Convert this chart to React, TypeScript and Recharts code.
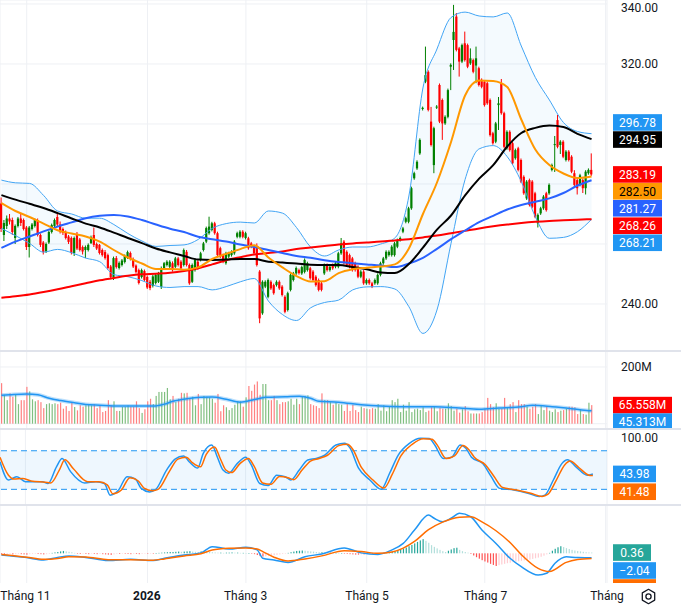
import React from 'react';
import {
  ComposedChart, Bar, Line, Area, XAxis, YAxis, CartesianGrid, ReferenceLine, ReferenceArea,
} from 'recharts';

const W = 681;
const AXIS_W = 74;
const SLOTS = 216;
const FONT = 'Roboto, "Noto Sans", sans-serif';
const GRID = '#eef0f4';
const TEXT = '#131722';
const UP = '#008000';
const DOWN = '#ff0000';

// Candles: [open, high, low, close]
const candles: [number, number, number, number][] = [
  [273.5,275.5,264,265],[263,268,261,267],[266,269.5,265,268.5],[268.5,270,266.5,267.5],[268,268.8,263,264],
  [262,266.5,260,266],[266,269,265.5,268.5],[268.5,270,266,267],[268,268.5,264.5,265],[265.5,266,258,259],
  [259,266,255.5,265.5],[265,267,264.5,266.5],[266,268.5,265.5,268],[268,268.5,262.5,263],[263,263.5,259,259.7],
  [260.5,261,256.5,257.3],[257.5,260.5,257,260],[260.5,264.5,260,264],[264,266.8,263.5,266.3],[266,268.5,265.5,268],
  [269,270.5,266,266.5],[266.5,267.5,263.5,264],[265,265.5,263,263.7],[264,264.5,261.5,262],[262.5,263,260,260.7],
  [262,262.5,256.5,257],[257,262.5,256,262],[263,264,258,258.5],[261.5,262,257.5,258],[259,259.5,256.5,257.5],
  [258,259.5,255.3,259],[258,260.2,257.5,259.7],[260.3,262.8,260,262.3],[263,265.5,259,259.7],[260,260.5,258,258.5],
  [259.7,260,256.5,257],[258,258.5,255.8,256.3],[257.3,258,254.8,255.3],[256.3,256.8,251.5,252],[252.5,253,248.3,249],
  [249,255.8,248,255.3],[255.3,256,251.8,252.3],[252,254.2,251.5,253.7],[253,255,252.5,254.5],[254,256.5,253.5,256],
  [255.5,257.8,255,257.3],[257,257.5,254.5,255],[255,255.5,252,252.5],[252.8,253.2,250.2,250.7],[251.3,251.8,246.5,247],
  [249,251.8,248.5,251.3],[251,251.5,247.5,248],[249,249.5,245,245.5],[247.4,248,244.6,245.3],[246,249.7,245.5,249.2],
  [247,250.2,246.5,249.7],[247.4,250.7,247,250.2],[245.7,252.5,245,252],[252,254,251.5,253.6],[253,254.6,252.5,254.1],
  [252.4,254.6,252,254.1],[253.6,254.2,250.8,251.3],[252.4,255.7,252,255.2],[255.2,255.7,252.5,253],[254.1,254.6,251.4,251.9],
  [253,258.5,252.5,258],[257.4,258,252.5,253],[253,253.5,246.4,246.9],[247.4,253.5,247,253],[251.3,255.2,250.8,254.7],
  [254.1,254.6,251.4,251.9],[254.7,257.4,254.2,256.9],[258,260.7,257.5,260.2],[260.8,265.8,260.3,265.3],[263.6,269.1,263.1,265.8],
  [264.7,267.4,264.2,266.9],[266.9,267.4,263.1,263.6],[263.6,264.1,255.8,256.3],[258.6,259.1,255.3,255.8],[256.3,256.8,253.6,254.1],
  [253.6,257.4,253.1,256.9],[255.8,257.4,255.3,256.9],[256.3,257.9,255.8,257.4],[256.9,261.3,256.4,260.8],[262.4,264.1,261.9,263.6],
  [262.4,264.6,261.9,264.1],[264.1,264.6,261.9,262.4],[262,264.1,261.5,263.6],[261.9,262.4,258.1,258.6],[260.2,260.7,258.6,259.1],
  [259.1,259.6,256.4,256.9],[258.6,260.2,252.5,253],[250.8,251.3,233.6,235.2],[236.9,247.9,236.4,247.4],[245.8,247.9,245.3,247.4],
  [242.4,248.5,241.9,248],[247.4,247.9,244.7,245.2],[246.3,246.8,243.1,243.6],[246.3,247.9,245.8,247.4],[247.4,247.9,244.7,245.2],
  [245.8,246.3,242.5,243],[242.4,242.9,236.9,237.4],[238,244.1,237.5,243.6],[244.7,250.2,244.2,249.7],[248,250.7,247.5,250.2],
  [250.2,252.5,249.7,252],[251.3,251.8,249.8,250.3],[250.2,252.8,249.7,252.3],[250.7,255.2,250.2,254.7],[251.3,254.1,250.8,253.6],
  [251.9,252.4,248.1,248.6],[250.8,251.3,247.5,248],[249.1,249.6,245.8,246.3],[248,248.5,244.2,244.7],[246.9,247.4,244.2,244.7],
  [250.2,253.5,249.7,253],[253,253.5,250.8,251.3],[251.3,252.9,250.8,252.4],[253,253.5,251.4,251.9],[252.4,254.1,251.9,253.6],
  [252.4,257.4,251.9,256.9],[256.9,262,256.4,260.2],[260.8,261.3,253.1,253.6],[257.4,257.9,252.5,253],[256.3,256.8,251.9,252.4],
  [255.2,255.7,250.8,251.3],[253.6,254.1,250.8,251.3],[252.4,252.9,248.6,249.1],[249.1,251.3,248.6,250.8],[250.8,251.3,246.4,246.9],
  [246.9,248.5,246.4,248],[248,248.5,246.4,246.9],[246.9,247.4,245.3,245.8],[246.9,248.5,246.4,248],[246.9,250.2,246.4,249.7],
  [249.7,254.1,249.2,253.6],[253.6,255.7,253.1,255.2],[255.2,257.9,254.7,257.4],[256.3,257.9,255.8,257.4],[256.3,259.6,255.8,259.1],
  [256.3,260.7,255.8,260.2],[259.1,261.8,258.6,261.3],[261.3,262.5,260.8,262],[264.1,265.7,263.6,265.2],[267.4,269.1,266.9,268.6],
  [267.4,272.4,266.9,271.9],[271.9,279.1,271.4,278.6],[281.9,284.1,281.4,283.6],[285.2,287.9,284.7,287.4],[290.2,295.2,289.7,294.7],
  [305,305.8,304.5,305.4],[314.1,325.8,313.6,316.3],[317.4,317.9,304.2,304.7],[300.8,305.7,292.5,293],[286.3,299.1,283.6,298.6],
  [305.5,306.3,305,305.8],[313,313.5,300.3,300.8],[308,308.5,294.7,300.2],[300.2,302.9,299.7,302.4],[302.4,311.8,301.9,311.3],
  [319.1,320.2,311.3,319.7],[328,339.7,318,330.7],[335.8,337,324.2,324.7],[325.2,325.7,315.8,320.8],[320.8,326.8,320.3,326.3],
  [326.9,330.8,320.8,321.3],[326.3,326.8,318.6,319.1],[320.2,325.2,319.7,321.9],[321.3,321.8,316.9,317.4],[319.5,325.8,313.6,321.9],
  [318.6,319.1,312.5,313],[314.7,315.2,311.9,312.4],[314.1,314.6,305.8,306.3],[313.6,314.1,306.4,306.9],[308,308.5,295.8,296.3],
  [296.9,297.4,293.1,293.6],[294.1,300.7,293.6,300.2],[306.3,309,298,306.9],[313.6,315,303.1,303.6],[303.6,304.1,291.9,292.4],
  [291.9,297.9,291.4,297.4],[297.4,297.9,290.8,291.3],[293.6,294.1,286.4,286.9],[288.6,291.8,288.1,291.3],[291.9,292.4,284.2,284.7],
  [288,288.5,280.3,280.8],[282.4,282.9,276.4,276.9],[275.2,281.3,274.7,280.8],[281.3,281.8,272.5,273],[280.8,281.3,271.9,272.4],
  [276.9,277.4,268.6,269.1],[266.9,270.2,265.5,269.7],[270.2,272.4,269.7,271.9],[271.9,276.3,271.4,275.8],[276.9,277.4,270.8,271.3],
  [276.9,280.2,276.4,279.7],[284.7,286.8,284.2,286.3],[293,296,284,293.3],[301.3,303,291.9,292.4],[293,294.6,290,294.1],
  [294.1,294.6,288.6,289.1],[288,291.3,287.5,290.8],[290.8,291.3,287.5,288],[289.1,289.6,283.6,284.1],[283.6,284.6,279.2,279.7],
  [281.3,281.8,276.5,278.6],[279.7,283.4,279.2,282.9],[281.3,281.8,277,278.6],[278.6,284.6,276.5,284.1],[283.6,285.2,283.1,284.7],
  [284.7,290.2,282.7,283.19],
];

// Volume in millions
const volumes = [
  143,102,83,107,95,102,69,83,83,130, 114,86,79,83,76,55,69,72,69,72,
  69,74,53,62,45,76,59,47,65,60, 65,69,65,69,55,65,41,45,83,65,
  79,45,45,59,60,65,60,60,79,55, 38,51,79,88,69,98,112,112,112,126,
  86,98,76,88,109,107,109,88,95,65, 105,69,98,95,93,88,74,105,44,65,
  58,48,55,67,79,79,60,93,133,116, 138,149,102,140,140,83,83,98,83,69,
  76,76,79,88,67,88,69,95,
  98,100,69,65,62,55,107,83,83, 76,67,76,69,67,45,69,45,67,48,
  41,60,55,53,51,55,53,69,46,65, 44,60,83,76,88,41,67,46,76,41,
  51,53,48,58,41,46,58,60,44,55, 53,53,72,62,46,53,39,51,62,44,
  36,36,36,36,41,53,91,69,58,72, 53,53,91,58,69,76,41,83,69,69,
  60,53,60,69,34,65,48,60,46,41, 51,41,46,48,53,60,60,58,34,51,
  34,32,74,65.558,
];
const volumeMa: [number, number][] = [
  [0,100],[3,102],[9,105],[13,102],[17,90],[21,82],[26,74],[30,68],[35,65],[42,62],[49,62],[54,62],
  [58,69],[61,79],[66,88],[71,93],[75,94],[80,86],[85,76],[90,85],[94,93],[101,95],[106,97],[110,90],
  [113,79],[120,76],[128,67],[135,62],[142,60],[154,60],[163,55],[170,51],[177,55],[185,60],[189,65],
  [196,60],[203,53],[209,46],[210,45.313],
];

// Price overlays sampled every 5 bars (bar 0, 5, 10 ... 210)
const bbUpper = [281.3,280.4,280.2,276.2,271,270,268.6,268.6,266.5,263.5,261,259.2,259.5,259.7,261.5,265.2,266.8,267.3,267,271,270.3,265.5,259,256,258,259,259,260,262,276,312,325,335.5,337.3,336,335.7,337,326,315.5,308,300.5,297.5,296.78];
const bbLower = [265.2,262.8,260.2,257.3,258.2,257.1,255.3,254.1,249.8,249.1,247.8,246,245.5,245.8,245.8,244.7,245.8,247.4,248.5,241,236.5,234.5,238.7,240.5,241.3,244.7,245.7,245.8,245,239.1,230.2,238,260.2,281.5,291.7,292.8,289.1,280.8,269.1,261.9,262.2,264.1,268.21];
const ma20 = [273.6,271,269,266.8,264.6,263.5,262.5,260.8,258,255.5,253.5,251.7,251.7,251.4,252.2,255,256.7,258.3,259.6,255.5,252.2,249.3,247.5,247.6,250.3,251.6,252.1,252.5,253.2,258.5,270,280.5,294,309.5,314.5,314.3,312.3,301.5,291.5,286.3,283.5,282,282.5];
const ma50 = [276.3,274.8,273.4,272,270.3,268.5,266.8,265.5,263.8,262,260.3,258.5,257.2,256,254.8,254.7,254.8,255,255,254.1,253.8,253.5,253.1,253,253,252.3,251.6,250.5,250.3,253.3,258.8,264.8,269.5,276.2,281.8,286.3,292.5,297,298.7,299.5,299,296.7,294.95];
const ma100 = [258.7,260.8,262.5,264.2,265.8,267.2,268.6,269.4,269.7,269.2,268,266.5,265.1,264,262.4,261.6,260.8,259.8,259,258,257,256,255.4,254.6,254,253.6,253.2,252.8,252.3,253.5,255.4,258.4,261.6,264.5,267.3,269.4,271.5,273,274.1,275.2,277,279.5,281.27];
const ma200 = [242.1,242.6,243.2,244,244.9,245.9,246.9,247.9,248.7,249.4,249.9,250.1,250.4,251,251.9,253.2,254.6,255.6,256.5,257,257.5,258.3,258.8,259.3,259.8,260.2,260.5,260.8,261.2,261.6,262.2,262.8,263.6,264.4,265.2,265.9,266.5,267,267.4,267.7,267.9,268.1,268.26];

// Stochastic anchors [bar, value]
const stochK: [number, number][] = [
  [0,63],[3,34.5],[4,36],[6,39.7],[9,32],[15,32],[17,29],[20,55],[22,68],[25,47.5],[30,30],[34,32],[37,29],[39,11],
  [42,19],[45,39.7],[48,36],[50,21.5],[53,16],[55,19],[59,50],[62,67],[65,72],[67,63],[70,53],[72,76],[75,89],[77,70],
  [79,50],[81,45],[84,60],[87,70],[89,58],[92,29],[95,26],[98,42],[101,39.7],[103,34.5],[106,50],[109,65.6],[112,68],
  [115,73],[119,89],[122,91.6],[124,84],[127,53],[131,34.5],[135,20],[138,45],[141,73],[145,91.6],[149,99.4],[152,99],
  [154,89],[157,68],[160,70],[163,89],[165,84],[167,70],[171,60],[174,39.7],[177,21.5],[182,19],[187,14],[191,8.8],
  [193,11],[196,34.5],[199,60],[201,66],[204,55],[208,42],[210,43.98],
];
const stochD: [number, number][] = [
  [0,70],[3,42],[5,36],[8,37],[11,33],[16,31],[18,30],[21,50],[23,66],[26,52],[31,32],[35,32],[38,27],[40,13],[43,19],
  [46,38],[49,33],[51,22],[54,18],[56,20],[60,48],[63,67],[66,70],[68,62],[71,55],[73,74],[76,86],[78,68],[80,50],
  [82,46],[85,60],[88,68],[90,56],[93,30],[96,28],[99,40],[102,38],[104,35],[107,50],[110,64],[113,68],[116,73],
  [120,88],[123,90],[125,82],[128,54],[132,35],[136,22],[139,44],[142,72],[146,90],[150,98.5],[153,98],[155,88],
  [158,68],[161,72],[164,88],[166,82],[168,70],[172,58],[175,40],[178,23],[183,19],[188,14],[192,9],[194,12],
  [197,34],[200,58],[202,64],[205,54],[209,41.5],[210,41.48],
];

// MACD anchors [bar, value] and histogram per bar
const macdLine: [number, number][] = [
  [0,-0.8],[9,-2],[15,-3.1],[20,-1.9],[24,-1.2],[30,-1.9],[38,-3.4],[46,-2.8],[54,-3.4],[58,-2.3],[65,-0.8],[71,0.2],
  [75,3.1],[81,2],[87,2.8],[91,1.6],[93,-2.3],[97,-3.1],[102,-4.3],[108,-1.6],[114,-0.3],[122,2.5],[128,0.2],[134,-0.5],
  [139,1.6],[143,4.6],[147,10.8],[152,17.8],[154,16.3],[157,14.7],[160,16.3],[163,18.6],[167,17],[171,10.8],[176,4.6],
  [181,-2.3],[185,-6.2],[191,-10.1],[194,-9.3],[197,-4.6],[201,-1.6],[205,-2],[210,-2.04],
];
const macdSignal: [number, number][] = [
  [0,-0.5],[9,-1.8],[15,-2.8],[20,-2.4],[24,-1.6],[30,-1.7],[38,-3],[46,-3],[54,-3.2],[58,-2.6],[65,-1.2],[71,-0.2],
  [75,1.5],[81,2.3],[87,2.5],[91,2],[93,0.8],[97,-1.8],[102,-3.6],[108,-2.6],[114,-1.2],[122,1.2],[128,0.8],[134,0],
  [139,0.6],[143,2.4],[147,5.5],[152,11],[157,14.5],[163,16.8],[167,17],[171,14.6],[176,10.5],[181,5],[185,-0.6],
  [191,-7],[195,-8.5],[201,-4.2],[205,-2.9],[210,-2.4],
];
const macdHist = [
  -0.4,-0.5,-0.4,-0.3,-0.5,-0.4,-0.3,-0.4,-0.5,-0.6,-0.4,-0.3,-0.2,-0.3,-0.4,-0.5,-0.4,-0.3,
  0.2,0.4,0.6,0.9,1.1,0.9,0.7,0.5,
  0.2,-0.1,-0.3,-0.2,-0.3,-0.4,-0.2,-0.3,-0.4,-0.3,
  -0.4,-0.5,-0.6,-0.7,-0.5,-0.3,-0.3,-0.2,-0.2,-0.3,-0.4,-0.3,-0.3,-0.4,-0.3,-0.2,-0.2,-0.1,-0.1,0.1,0.2,
  0.3,0.4,0.5,0.6,0.6,0.7,0.8,0.7,0.8,0.9,1.0,0.8,0.7,0.6,0.9,1.0,
  0.8,0.6,0.5,0.4,0.3,0.3,0.2,0.3,0.3,0.4,0.3,0.3,0.2,0.2,0.1,0.1,-0.2,-0.4,
  -0.8,-1.3,-1.5,-1.4,-1.3,-1.1,-0.9,-0.7,-0.5,-0.3,
  -0.2,0.2,0.5,0.8,1.1,1.2,1.3,1.2,1.1,0.9,0.8,0.6,
  0.5,0.5,0.4,0.3,0.3,0.2,0.2,0.1,0.1,-0.1,-0.3,-0.4,
  -0.5,-0.6,-0.6,-0.5,-0.5,-0.4,-0.3,-0.3,-0.2,-0.1,0.1,0.2,
  0.4,0.6,0.8,1.0,1.4,1.8,2.2,2.7,3.3,3.9,4.6,5.3,6.0,6.6,
  5.8,4.9,3.8,3.0,2.3,1.6,1.0,0.6,
  1.2,1.8,2.4,2.6,
  1.6,1.0,0.6,0.3,-0.3,
  -1.0,-1.8,-2.5,-3.2,-3.8,-4.3,-4.9,-5.4,-5.9,
  -5.5,-5.2,-4.9,-4.6,-4.4,-4.1,-3.9,-3.7,-3.5,-3.3,-3.1,-2.9,-2.6,-2.3,-2.0,-1.6,-1.1,-0.5,0.2,
  1.2,2.1,2.8,3.3,2.9,2.4,
  2.0,1.6,1.3,1.1,0.9,0.7,0.5,0.4,0.36,
];

const monthTicks = [9, 52, 87, 130, 172, 215];
const monthLabels = ['Tháng 11', '2026', 'Tháng 3', 'Tháng 5', 'Tháng 7', 'Tháng'];
const priceTicks = [240, 260, 280, 300, 320, 340];
const priceLabelled = [240, 320, 340];

const volMap = new Map(volumeMa);
const kMap = new Map(stochK);
const dMap = new Map(stochD);
const macdMap = new Map(macdLine);
const sigMap = new Map(macdSignal);

const data = Array.from({ length: SLOTS }, (_, i) => {
  const row: any = { i };
  const cd = candles[i];
  if (cd) {
    row.o = cd[0]; row.h = cd[1]; row.l = cd[2]; row.c = cd[3];
    row.range = [cd[2], cd[1]];
    row.up = cd[3] >= cd[0];
  }
  if (i < volumes.length) row.vol = volumes[i];
  if (volMap.has(i)) row.volMa = volMap.get(i);
  if (i % 5 === 0 && i / 5 < bbUpper.length) {
    const k = i / 5;
    row.bbU = bbUpper[k];
    row.bbL = bbLower[k];
    row.bb = [bbLower[k], bbUpper[k]];
    row.ma20 = ma20[k];
    row.ma50 = ma50[k];
    row.ma100 = ma100[k];
    row.ma200 = ma200[k];
  }
  if (kMap.has(i)) row.k = kMap.get(i);
  if (dMap.has(i)) row.d = dMap.get(i);
  if (macdMap.has(i)) row.macd = macdMap.get(i);
  if (sigMap.has(i)) row.sig = sigMap.get(i);
  if (i < macdHist.length) {
    const v = macdHist[i];
    const p = i > 0 ? macdHist[i - 1] : v;
    row.hist = v;
    row.hc = v >= 0 ? (v >= p ? '#26a69a' : '#b2dfdb') : (v <= p ? '#ff5252' : '#ffcdd2');
  }
  return row;
});

const CandleShape = (props: any) => {
  const { x, y, width, height, payload } = props;
  if (!payload || payload.o == null || y == null) return null;
  const top = Math.min(y, y + height);
  const h = Math.abs(height);
  const span = payload.h - payload.l || 1;
  const py = (v: number) => top + ((payload.h - v) / span) * h;
  const color = payload.up ? UP : DOWN;
  const cx = x + width / 2;
  const bTop = py(Math.max(payload.o, payload.c));
  const bBot = py(Math.min(payload.o, payload.c));
  return (
    <g>
      <line x1={cx} x2={cx} y1={top} y2={top + h} stroke={color} strokeWidth={1} />
      <rect x={x} y={bTop} width={width} height={Math.max(1, bBot - bTop)} fill={color} />
    </g>
  );
};

const VolShape = (props: any) => {
  const { x, y, width, height, payload } = props;
  if (!payload || y == null) return null;
  return <rect x={x} y={Math.min(y, y + height)} width={width} height={Math.abs(height)} fill={payload.up ? '#80bf80' : '#ff8080'} />;
};

const HistShape = (props: any) => {
  const { x, y, width, height, payload } = props;
  if (!payload || y == null) return null;
  return <rect x={x} y={Math.min(y, y + height)} width={width} height={Math.max(0.5, Math.abs(height))} fill={payload.hc} />;
};

const tag = (text: string, bg: string, fg: string, dy: number, w: number) => (props: any) => {
  const vb = props.viewBox || {};
  const x0 = (vb.x ?? 0) + (vb.width ?? 0) + 6;
  const cy = (vb.y ?? 0) + dy;
  return (
    <g>
      <rect x={x0} y={cy - 8.3} width={w} height={16.6} fill={bg} />
      {text ? (
        <text x={x0 + w / 2} y={cy} dy="0.36em" textAnchor="middle" fill={fg} fontSize={12} fontFamily={FONT}>{text}</text>
      ) : null}
    </g>
  );
};

const MonthTick = (props: any) => {
  const { x, y, payload } = props;
  const idx = monthTicks.indexOf(payload.value);
  const label = monthLabels[idx] ?? '';
  return (
    <text x={x} y={y} dy={17} textAnchor="middle" fill={TEXT} fontSize={12} fontFamily={FONT} fontWeight={label === '2026' ? 700 : 400}>
      {label}
    </text>
  );
};

const axisTick = { fill: TEXT, fontSize: 12, fontFamily: FONT };
const margin = { top: 0, right: 0, bottom: 0, left: 0 };

const pane = (top: number, height: number): React.CSSProperties => ({
  position: 'absolute', left: 0, top, width: W, height, overflow: 'hidden',
});

const Sep = ({ top }: { top: number }) => (
  <div style={{ position: 'absolute', left: 0, top, width: W, height: 2, background: '#e0e3eb' }} />
);

const lineProps = { connectNulls: true, type: 'monotone' as const, dot: false, activeDot: false, isAnimationActive: false };

export default function App() {
  return (
    <div style={{ position: 'absolute', left: 0, top: 0, width: W, height: 607, background: '#fff', overflow: 'hidden' }}>
      {/* Price pane */}
      <div style={pane(0, 351)}>
        <ComposedChart width={W} height={351} data={data} margin={margin}>
          <CartesianGrid stroke={GRID} />
          <XAxis dataKey="i" hide ticks={monthTicks} interval={0} />
          <YAxis orientation="right" width={AXIS_W} domain={[224.333, 341.333]} allowDataOverflow ticks={priceTicks}
            tickFormatter={(v: number) => (priceLabelled.includes(v) ? v.toFixed(2) : '')}
            axisLine={false} tickLine={false} tickSize={0} tickMargin={14} tick={axisTick} />
          <Area dataKey="bb" stroke="none" fill="#2196f3" fillOpacity={0.05} {...lineProps} />
          <Line dataKey="bbU" stroke="#42a5f5" strokeWidth={1} {...lineProps} />
          <Line dataKey="bbL" stroke="#42a5f5" strokeWidth={1} {...lineProps} />
          <Line dataKey="ma200" stroke="#ff0000" strokeWidth={2} {...lineProps} />
          <Line dataKey="ma100" stroke="#2962ff" strokeWidth={2} {...lineProps} />
          <Line dataKey="ma50" stroke="#000000" strokeWidth={2} {...lineProps} />
          <Line dataKey="ma20" stroke="#ff9800" strokeWidth={2} {...lineProps} />
          <Bar dataKey="range" barSize={2.2} shape={(p: any) => <CandleShape {...p} />} isAnimationActive={false} />
          <ReferenceLine y={296.78} stroke="none" label={tag('296.78', '#2196f3', '#fff', -11.2, 49)} />
          <ReferenceLine y={294.95} stroke="none" label={tag('294.95', '#000000', '#fff', 0.4, 49)} />
          <ReferenceLine y={283.19} stroke="none" label={tag('283.19', '#ff0000', '#fff', 0, 49)} />
          <ReferenceLine y={282.5} stroke="none" label={tag('282.50', '#ff9800', '#000', 14.8, 49)} />
          <ReferenceLine y={281.27} stroke="none" label={tag('281.27', '#2962ff', '#fff', 28.1, 49)} />
          <ReferenceLine y={268.26} stroke="none" label={tag('268.26', '#ff0000', '#fff', 6.5, 49)} />
          <ReferenceLine y={268.21} stroke="none" label={tag('268.21', '#2196f3', '#fff', 23.4, 49)} />
        </ComposedChart>
      </div>

      {/* Volume pane */}
      <div style={pane(351, 78)}>
        <ComposedChart width={W} height={78} data={data} margin={margin}>
          <CartesianGrid stroke={GRID} />
          <XAxis dataKey="i" hide ticks={monthTicks} interval={0} />
          <YAxis orientation="right" width={AXIS_W} domain={[-18.7, 256.4]} allowDataOverflow ticks={[0, 200]}
            tickFormatter={(v: number) => (v === 200 ? '200M' : '')}
            axisLine={false} tickLine={false} tickSize={0} tickMargin={14} tick={axisTick} />
          <Bar dataKey="vol" barSize={1.2} shape={(p: any) => <VolShape {...p} />} isAnimationActive={false} />
          <Line dataKey="volMa" stroke="#2196f3" strokeOpacity={0.3} strokeWidth={4} {...lineProps} />
          <Line dataKey="volMa" stroke="#2196f3" strokeWidth={1.5} {...lineProps} />
          <ReferenceLine y={65.558} stroke="none" label={tag('65.558M', '#ff0000', '#fff', 0, 59)} />
          <ReferenceLine y={45.313} stroke="none" label={tag('45.313M', '#2196f3', '#fff', 10.8, 59)} />
        </ComposedChart>
      </div>

      {/* Stochastic pane */}
      <div style={pane(429, 76)}>
        <ComposedChart width={W} height={76} data={data} margin={margin}>
          <CartesianGrid stroke={GRID} horizontal={false} />
          <XAxis dataKey="i" hide ticks={monthTicks} interval={0} />
          <YAxis orientation="right" width={AXIS_W} domain={[-4.35, 113.84]} allowDataOverflow ticks={[0, 50, 100]}
            tickFormatter={(v: number) => (v === 50 ? '' : v.toFixed(2))}
            axisLine={false} tickLine={false} tickSize={0} tickMargin={14} tick={axisTick} />
          <ReferenceArea y1={20} y2={80} fill="#2196f3" fillOpacity={0.08} stroke="none" />
          <ReferenceLine y={80} stroke="#2196f3" strokeDasharray="6 4" />
          <ReferenceLine y={20} stroke="#2196f3" strokeDasharray="6 4" />
          <Line dataKey="k" stroke="#2196f3" strokeWidth={1.5} {...lineProps} />
          <Line dataKey="d" stroke="#ff6d00" strokeWidth={1.5} {...lineProps} />
          <ReferenceLine y={43.98} stroke="none" label={tag('43.98', '#2196f3', '#fff', 0, 43)} />
          <ReferenceLine y={41.48} stroke="none" label={tag('41.48', '#ff6d00', '#fff', 16.2, 43)} />
        </ComposedChart>
      </div>

      {/* MACD pane */}
      <div style={pane(505, 78)}>
        <ComposedChart width={W} height={78} data={data} margin={margin}>
          <CartesianGrid stroke={GRID} horizontal={false} />
          <XAxis dataKey="i" hide ticks={monthTicks} interval={0} />
          <YAxis orientation="right" width={AXIS_W} domain={[-13.81, 22.47]} allowDataOverflow tick={false}
            axisLine={false} tickLine={false} />
          <Bar dataKey="hist" barSize={1.2} shape={(p: any) => <HistShape {...p} />} isAnimationActive={false} />
          <Line dataKey="macd" stroke="#2196f3" strokeWidth={1.5} {...lineProps} />
          <Line dataKey="sig" stroke="#ff6d00" strokeWidth={1.5} {...lineProps} />
          <ReferenceLine y={0.36} stroke="none" label={tag('0.36', '#26a69a', '#fff', 0, 38)} />
          <ReferenceLine y={-2.04} stroke="none" label={tag('−2.04', '#2196f3', '#fff', 12.8, 43)} />
          <ReferenceLine y={-2.4} stroke="none" label={tag('', '#ff6d00', '#fff', 29, 43)} />
        </ComposedChart>
      </div>

      {/* Time axis */}
      <div style={{ position: 'absolute', left: 0, top: 577, width: W, height: 30, overflow: 'hidden' }}>
        <ComposedChart width={W} height={30} data={data} margin={{ top: 0, right: AXIS_W, bottom: 0, left: 0 }}>
          <XAxis dataKey="i" ticks={monthTicks} interval={0} height={24} axisLine={false} tickLine={false}
            tickSize={0} tickMargin={0} tick={(p: any) => <MonthTick {...p} />} />
          <YAxis hide domain={[0, 1]} />
          <Line dataKey="c" stroke="none" dot={false} activeDot={false} isAnimationActive={false} />
        </ComposedChart>
      </div>

      <Sep top={350} />
      <Sep top={428} />
      <Sep top={504} />

      <svg style={{ position: 'absolute', left: 640, top: 588 }} width={17} height={17} viewBox="0 0 17 17">
        <path d="M8.5 1.3 L14.7 4.9 L14.7 12.1 L8.5 15.7 L2.3 12.1 L2.3 4.9 Z" fill="none" stroke={TEXT} strokeWidth={1.3} strokeLinejoin="round" />
        <circle cx={8.5} cy={8.5} r={2.6} fill="none" stroke={TEXT} strokeWidth={1.3} />
      </svg>
    </div>
  );
}
